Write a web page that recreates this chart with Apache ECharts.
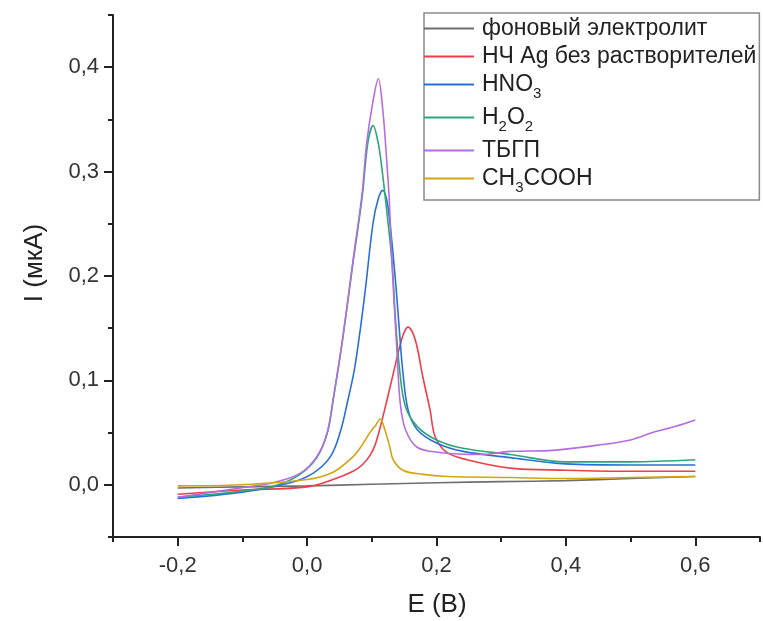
<!DOCTYPE html>
<html>
<head>
<meta charset="utf-8">
<script src="https://cdn.jsdelivr.net/npm/echarts@6/dist/echarts.min.js"></script>
<style>
html,body{margin:0;padding:0;background:#fff;}
#chart{width:763px;height:621px;}
</style>
</head>
<body>
<div id="chart"></div>
<script>
// ---- data (E in V, I in µA) ----
var seriesNames = ['фоновый электролит', 'НЧ Ag без растворителей', 'HNO3', 'H2O2', 'ТБГП', 'CH3COOH'];
var xTickLabels = [-0.2, 0.0, 0.2, 0.4, 0.6];
var yTickLabels = [0.0, 0.1, 0.2, 0.3, 0.4];

var E_bg = [-0.2, -0.1, 0.0, 0.1, 0.2, 0.3, 0.4, 0.5, 0.6];
var I_bg = [-0.003, -0.002, -0.001, 0.0005, 0.002, 0.003, 0.004, 0.006, 0.008];

var E_red = [-0.2, -0.1, 0.0, 0.04, 0.071, 0.085, 0.097, 0.105, 0.113, 0.123, 0.133, 0.143, 0.15, 0.156, 0.163, 0.17, 0.179, 0.19, 0.198, 0.216, 0.247, 0.314, 0.4, 0.5, 0.6];
var I_red = [-0.009, -0.005, -0.002, 0.005, 0.013, 0.019, 0.028, 0.038, 0.055, 0.08, 0.106, 0.132, 0.146, 0.151, 0.146, 0.132, 0.103, 0.072, 0.046, 0.031, 0.024, 0.016, 0.014, 0.013, 0.013];

var E_blue = [-0.2, -0.1, -0.026, 0.009, 0.036, 0.051, 0.063, 0.073, 0.082, 0.09, 0.102, 0.11, 0.117, 0.123, 0.128, 0.133, 0.138, 0.143, 0.148, 0.156, 0.17, 0.2, 0.241, 0.314, 0.4, 0.5, 0.6];
var I_blue = [-0.013, -0.007, 0.002, 0.011, 0.027, 0.05, 0.081, 0.11, 0.148, 0.187, 0.251, 0.274, 0.282, 0.273, 0.251, 0.22, 0.185, 0.145, 0.108, 0.072, 0.053, 0.04, 0.032, 0.026, 0.020, 0.019, 0.019];

var E_green = [-0.2, -0.1, -0.05, -0.011, 0.015, 0.031, 0.04, 0.055, 0.071, 0.085, 0.094, 0.102, 0.11, 0.116, 0.123, 0.131, 0.137, 0.143, 0.152, 0.17, 0.2, 0.241, 0.314, 0.4, 0.5, 0.6];
var I_green = [-0.012, -0.006, -0.001, 0.01, 0.026, 0.049, 0.08, 0.14, 0.213, 0.275, 0.328, 0.344, 0.327, 0.301, 0.263, 0.215, 0.155, 0.11, 0.075, 0.056, 0.043, 0.035, 0.029, 0.022, 0.022, 0.024];

var E_purple = [-0.2, -0.103, -0.053, -0.011, 0.015, 0.031, 0.04, 0.055, 0.071, 0.085, 0.092, 0.102, 0.11, 0.117, 0.123, 0.127, 0.131, 0.139, 0.144, 0.152, 0.17, 0.205, 0.267, 0.314, 0.38, 0.45, 0.5, 0.534, 0.57, 0.6];
var I_purple = [-0.012, -0.003, 0.002, 0.011, 0.027, 0.05, 0.081, 0.14, 0.215, 0.279, 0.327, 0.368, 0.389, 0.359, 0.311, 0.273, 0.215, 0.126, 0.078, 0.053, 0.036, 0.031, 0.029, 0.032, 0.033, 0.038, 0.043, 0.05, 0.056, 0.062];

var E_gold = [-0.2, -0.103, 0.0, 0.04, 0.071, 0.085, 0.097, 0.106, 0.113, 0.12, 0.128, 0.133, 0.148, 0.179, 0.216, 0.314, 0.4, 0.5, 0.6];
var I_gold = [-0.001, 0.0, 0.005, 0.012, 0.027, 0.038, 0.05, 0.057, 0.063, 0.053, 0.036, 0.024, 0.014, 0.010, 0.008, 0.007, 0.006, 0.007, 0.008];

var colors = ['#6f6f6f', '#ef3e4a', '#2a6fd6', '#2ba77a', '#b56ce2', '#d3a512'];

// ---- build ----
function pairs(xs, ys) { return xs.map(function (x, i) { return [x, ys[i]]; }); }
var dataSets = [pairs(E_bg, I_bg), pairs(E_red, I_red), pairs(E_blue, I_blue),
                pairs(E_green, I_green), pairs(E_purple, I_purple), pairs(E_gold, I_gold)];

var FONT = '"Liberation Sans", Arial, sans-serif';
function fmt(v) { return (Math.round(v * 10) / 10).toFixed(1).replace('.', ','); }

var legendRich = {
  n: { fontSize: 23, fontFamily: FONT, color: '#222', lineHeight: 23, verticalAlign: 'top' },
  s: { fontSize: 15, fontFamily: FONT, color: '#222', lineHeight: 15, verticalAlign: 'top', padding: [13, 0, 0, 0] }
};
var legendLabels = {
  'HNO3': '{n|HNO}{s|3}',
  'H2O2': '{n|H}{s|2}{n|O}{s|2}',
  'CH3COOH': '{n|CH}{s|3}{n|COOH}'
};

var chart = echarts.init(document.getElementById('chart'), null, { renderer: 'canvas' });
var axisLineStyle = { color: '#222', width: 2 };

var option = {
  animation: false,
  backgroundColor: '#fff',
  color: colors,
  grid: { left: 113, right: 3, top: 15, bottom: 84, containLabel: false },
  xAxis: [
    {
      type: 'value', min: -0.3, max: 0.7, interval: 0.1,
      axisLine: { show: true, lineStyle: axisLineStyle, onZero: false },
      axisTick: { show: true, inside: false, length: 9, lineStyle: axisLineStyle, customValues: xTickLabels },
      axisLabel: { customValues: xTickLabels, formatter: fmt, fontSize: 22, fontFamily: FONT, color: '#333', margin: 18 },
      splitLine: { show: false }
    },
    {
      type: 'value', min: -0.3, max: 0.7, interval: 0.1, position: 'bottom',
      axisLine: { show: false, onZero: false },
      axisTick: { show: true, inside: false, length: 5, lineStyle: axisLineStyle },
      axisLabel: { show: false },
      splitLine: { show: false }
    }
  ],
  yAxis: [
    {
      type: 'value', min: -0.05, max: 0.45, interval: 0.05,
      axisLine: { show: true, lineStyle: axisLineStyle, onZero: false },
      axisTick: { show: true, inside: false, length: 9, lineStyle: axisLineStyle, customValues: yTickLabels },
      axisLabel: { customValues: yTickLabels, formatter: fmt, fontSize: 22, fontFamily: FONT, color: '#333', margin: 14 },
      splitLine: { show: false }
    },
    {
      type: 'value', min: -0.05, max: 0.45, interval: 0.05, position: 'left',
      axisLine: { show: false, onZero: false },
      axisTick: { show: true, inside: false, length: 5, lineStyle: axisLineStyle },
      axisLabel: { show: false },
      splitLine: { show: false }
    }
  ],
  legend: {
    orient: 'vertical', left: 424, top: 13,
    padding: [4, 3, 5, 0],
    itemGap: 5,
    itemWidth: 50, itemHeight: 2,
    icon: 'rect',
    borderColor: '#8a8a8a', borderWidth: 1.5, backgroundColor: '#fff',
    textStyle: { fontSize: 23, fontFamily: FONT, color: '#222', rich: legendRich, padding: [0, 0, 0, 3] },
    formatter: function (name) { return legendLabels[name] || ('{n|' + name + '}'); },
    data: seriesNames
  },
  series: seriesNames.map(function (name, i) {
    return {
      name: name, type: 'line', xAxisIndex: 0, yAxisIndex: 0,
      data: dataSets[i], showSymbol: false, symbol: 'none',
      smooth: 0.35,
      lineStyle: { width: 1.6, color: colors[i] },
      itemStyle: { color: colors[i] },
      z: 2 + i
    };
  }),
  graphic: [
    { type: 'text', x: 437, y: 605, style: { text: 'E (B)', font: '26px ' + FONT, fill: '#222', align: 'center', verticalAlign: 'middle', textAlign: 'center', textVerticalAlign: 'middle' } },
    { type: 'text', x: 35, y: 263, rotation: Math.PI / 2, style: { text: 'I (мкА)', font: '26px ' + FONT, fill: '#222', align: 'center', verticalAlign: 'middle', textAlign: 'center', textVerticalAlign: 'middle' } }
  ]
};
chart.setOption(option);
</script>
</body>
</html>
